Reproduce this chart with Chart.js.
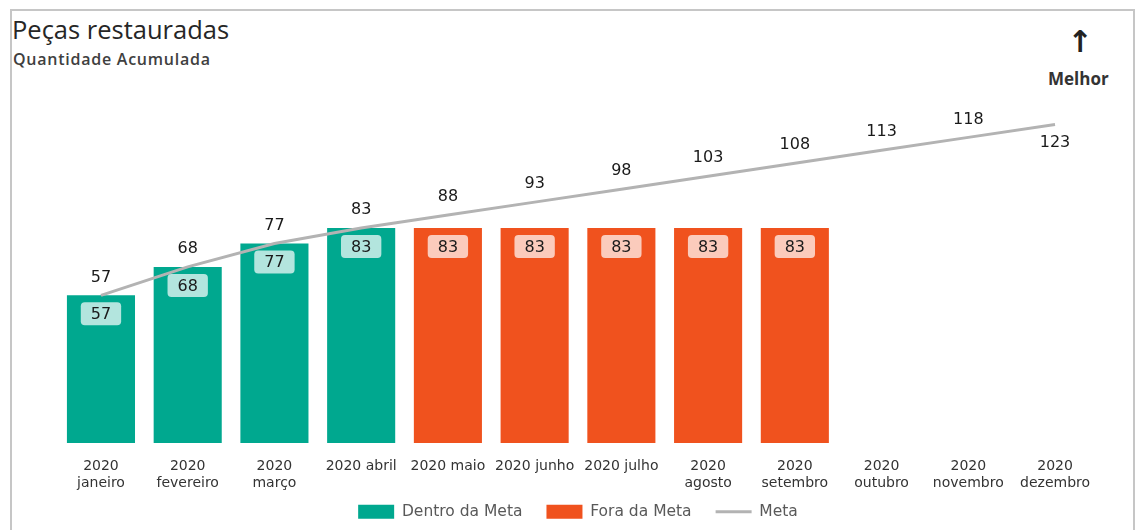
<!DOCTYPE html>
<html>
<head>
<meta charset="utf-8">
<script src="https://cdn.jsdelivr.net/npm/chart.js@4/dist/chart.umd.min.js"></script>
<style>
  html, body { margin: 0; padding: 0; background: #fff; width: 1136px; height: 530px; overflow: hidden; }
  #frame { position: absolute; left: 10px; top: 9px; width: 1125px; height: 560px; border: 2px solid #c6c6c6; box-sizing: border-box; }
  #title { position: absolute; left: 12px; top: 12px; font-family: "Open Sans", sans-serif; font-size: 25.5px; color: #262626; white-space: nowrap; }
  #subtitle { position: absolute; left: 13px; top: 48px; font-family: "Open Sans", sans-serif; font-weight: 600; font-size: 16px; letter-spacing: 0.75px; color: #404040; white-space: nowrap; }
  #arrow { position: absolute; left: 1065px; top: 24px; width: 30px; text-align: center; font-family: "DejaVu Sans", sans-serif; font-weight: bold; font-size: 30px; color: #222; }
  #melhor { position: absolute; left: 1048px; top: 67px; font-family: "Open Sans", sans-serif; font-weight: 700; font-size: 17px; color: #333; white-space: nowrap; }
  canvas { position: absolute; left: 0; top: 0; }
</style>
</head>
<body>
<div id="frame"></div>
<div id="title">Peças restauradas</div>
<div id="subtitle">Quantidade Acumulada</div>
<div id="arrow">↑</div>
<div id="melhor">Melhor</div>
<canvas id="c" width="1136" height="530"></canvas>
<script>
const categories = [
  ['2020', 'janeiro'], ['2020', 'fevereiro'], ['2020', 'março'], '2020 abril',
  '2020 maio', '2020 junho', '2020 julho', ['2020', 'agosto'],
  ['2020', 'setembro'], ['2020', 'outubro'], ['2020', 'novembro'], ['2020', 'dezembro']
];
const dentroDaMeta = [57, 68, 77, 83, null, null, null, null, null, null, null, null];
const foraDaMeta = [null, null, null, null, 83, 83, 83, 83, 83, null, null, null];
const meta = [57, 68, 77, 83, 88, 93, 98, 103, 108, 113, 118, 123];
const seriesNames = ['Dentro da Meta', 'Fora da Meta', 'Meta'];

const GREEN = '#00A88F';
const ORANGE = '#F0521E';
const GREY = '#B3B3B3';

const labelPlugin = {
  id: 'labels',
  afterDatasetsDraw(chart) {
    const ctx = chart.ctx;
    ctx.save();
    ctx.font = '16px "DejaVu Sans"';
    ctx.textAlign = 'center';
    ctx.textBaseline = 'middle';
    [0, 1].forEach(di => {
      const m = chart.getDatasetMeta(di);
      m.data.forEach((el, i) => {
        const v = chart.data.datasets[di].data[i];
        if (v == null) return;
        const txt = String(v);
        const w = ctx.measureText(txt).width + 20;
        const h = 23;
        const cx = el.x, cy = el.y + 18.5;
        ctx.fillStyle = 'rgba(255,255,255,0.7)';
        ctx.beginPath();
        ctx.roundRect(cx - w / 2, cy - h / 2, w, h, 4);
        ctx.fill();
        ctx.fillStyle = '#1a1a1a';
        ctx.fillText(txt, cx, cy + 1);
      });
    });
    const lm = chart.getDatasetMeta(2);
    const n = lm.data.length;
    lm.data.forEach((el, i) => {
      const v = chart.data.datasets[2].data[i];
      const dy = (i === n - 1) ? 18 : -18;
      ctx.fillStyle = '#1a1a1a';
      ctx.fillText(String(v), el.x, el.y + dy);
    });
    ctx.restore();
  }
};

const legendShift = {
  id: 'legendShift',
  afterLayout(chart) {
    const l = chart.legend;
    if (l) { l.top -= 13; l.bottom = chart.height; }
  }
};

new Chart(document.getElementById('c'), {
  data: {
    labels: categories,
    datasets: [
      { type: 'bar', label: seriesNames[0], data: dentroDaMeta, backgroundColor: GREEN, grouped: false,
        barPercentage: 0.785, categoryPercentage: 1, order: 1, pointStyle: 'rect' },
      { type: 'bar', label: seriesNames[1], data: foraDaMeta, backgroundColor: ORANGE, grouped: false,
        barPercentage: 0.785, categoryPercentage: 1, order: 1, pointStyle: 'rect' },
      { type: 'line', label: seriesNames[2], data: meta, borderColor: GREY, backgroundColor: GREY,
        borderWidth: 3, pointRadius: 0, tension: 0, order: 0, pointStyle: 'line' }
    ]
  },
  options: {
    responsive: false,
    devicePixelRatio: 1,
    animation: false,
    layout: { padding: { left: 57.6, right: 37.6, top: 28.6, bottom: 2 } },
    scales: {
      x: {
        offset: true,
        grid: { display: false, drawTicks: false },
        border: { display: false },
        ticks: { color: '#333', font: { family: 'DejaVu Sans', size: 14, lineHeight: 1.2 }, padding: 15, maxRotation: 0, autoSkip: false },
        afterFit: (s) => { s.height = 50; }
      },
      y: { display: false, min: 0, max: 160 }
    },
    plugins: {
      legend: {
        position: 'bottom',
        maxHeight: 35,
        labels: {
          usePointStyle: true,
          pointStyleWidth: 36,
          boxHeight: 14,
          color: '#595959',
          font: { family: 'DejaVu Sans', size: 15.5 },
          padding: 24,
          sort: (a, b) => a.datasetIndex - b.datasetIndex
        }
      },
      tooltip: { enabled: false }
    }
  },
  plugins: [labelPlugin, legendShift]
});
</script>
</body>
</html>
